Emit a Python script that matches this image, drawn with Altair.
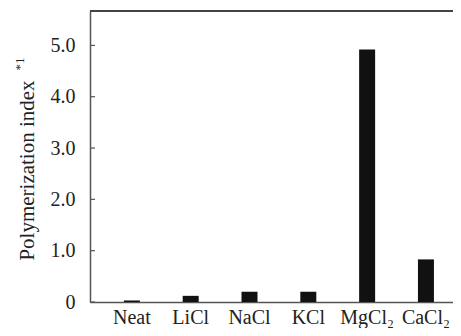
import altair as alt
import pandas as pd

categories = ["Neat", "LiCl", "NaCl", "KCl", "MgCl₂", "CaCl₂"]
values = [0.03, 0.12, 0.20, 0.20, 4.92, 0.83]
y_ticks = [0, 1, 2, 3, 4, 5]

bars_df = pd.DataFrame({"salt": categories, "index": values})
ticks_df = pd.DataFrame({"v": y_ticks})
sup_df = pd.DataFrame({"t": ["*1"]})

FONT = "Liberation Serif, Times New Roman, serif"
W, H = 363, 291

y_scale = alt.Scale(domain=[0, 5.67], nice=False)

bars = alt.Chart(bars_df).mark_bar(color="#111111").encode(
    x=alt.X("salt:N", sort=categories,
            scale=alt.Scale(paddingInner=0.728, paddingOuter=0.45, align=0.64),
            axis=alt.Axis(title=None, labelAngle=0, ticks=False, tickSize=0,
                          labelFont=FONT, labelFontSize=20, labelColor="#222",
                          labelPadding=5, domainColor="#555", domainWidth=1.5)),
    y=alt.Y("index:Q", scale=y_scale,
            axis=alt.Axis(values=y_ticks, ticks=False, tickSize=0, grid=False,
                          labelExpr="datum.value == 0 ? '0' : format(datum.value, '.1f')",
                          labelFont=FONT, labelFontSize=20, labelColor="#222",
                          labelPadding=15, domainColor="#555", domainWidth=1.5,
                          title="Polymerization index", titleFont=FONT,
                          titleFontSize=21, titleFontWeight="normal", titleColor="#222",
                          titleAngle=-90, titleAlign="center", titleBaseline="middle",
                          titleX=-63, titleY=159)),
)

ticks = alt.Chart(ticks_df).mark_rule(color="#555", strokeWidth=1.2).encode(
    y=alt.Y("v:Q", scale=y_scale),
    x=alt.value(0),
    x2=alt.value(5),
)

top_line = alt.Chart(ticks_df).mark_rule(color="#444", strokeWidth=1.5).encode(
    x=alt.value(0), x2=alt.value(W), y=alt.value(0)
)

sup = alt.Chart(sup_df).mark_text(
    font=FONT, fontSize=13, angle=270, color="#222", baseline="middle", align="center"
).encode(text="t:N", x=alt.value(-70), y=alt.value(53))

chart = alt.layer(bars, ticks, top_line, sup).properties(
    width=W, height=H,
    padding={"left": 82, "top": 3, "right": 0, "bottom": 26},
    autosize="none",
).configure_view(stroke=None).configure(background="white")

chart.save("out.html", embed_options={"renderer": "svg", "actions": False})
